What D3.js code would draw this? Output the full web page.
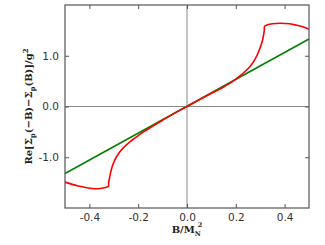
<!DOCTYPE html>
<html lang="en">
<head>
<script src="https://d3js.org/d3.v7.min.js"></script>
<style>
  body { margin: 0; background: #fff; }
  svg { display: block; }
  .tick text { font-family: "DejaVu Sans", sans-serif; font-size: 10.5px; fill: #333; }
</style>
</head>
<body>
<svg id="chart" width="325" height="245"></svg>
<script>
// red curve: Re[Sigma_p(-B) - Sigma_p(B)]/g^2
const redX = [-0.5, -0.45, -0.42, -0.4, -0.38, -0.35, -0.33, -0.322, -0.321, -0.319, -0.316, -0.312, -0.307, -0.3, -0.29, -0.275, -0.26, -0.24, -0.22, -0.2, -0.175, -0.15, -0.1, -0.05,
              0, 0.05, 0.1, 0.15, 0.175, 0.2, 0.22, 0.24, 0.26, 0.275, 0.29, 0.3, 0.307, 0.312, 0.315, 0.317, 0.318, 0.33, 0.35, 0.381, 0.42, 0.45, 0.48, 0.5];
const redY = [-1.49, -1.56, -1.59, -1.61, -1.62, -1.61, -1.59, -1.57, -1.50, -1.44, -1.37, -1.28, -1.19, -1.10, -1.00, -0.89, -0.81, -0.72, -0.645, -0.575, -0.49, -0.415, -0.27, -0.13,
              0, 0.13, 0.26, 0.385, 0.455, 0.54, 0.615, 0.70, 0.80, 0.90, 1.04, 1.16, 1.26, 1.36, 1.44, 1.51, 1.58, 1.61, 1.63, 1.64, 1.63, 1.60, 1.56, 1.52];
// green straight line
const greenX = [-0.5, 0.5];
const greenY = [-1.32, 1.33];

const xTicks = [-0.4, -0.2, 0.0, 0.2, 0.4];
const yTicks = [-1.0, 0.0, 1.0];

const svg = d3.select("#chart");
const mLeft = 65, mRight = 309, mTop = 5, mBottom = 208;

const x = d3.scaleLinear().domain([-0.5, 0.5]).range([mLeft, mRight]);
const y = d3.scaleLinear().domain([-2, 2]).range([mBottom, mTop]);

const frameCol = "#555";

// zero lines
svg.append("line").attr("x1", x(0)).attr("x2", x(0)).attr("y1", mTop).attr("y2", mBottom)
   .attr("stroke", "#888").attr("stroke-width", 1);
svg.append("line").attr("x1", mLeft).attr("x2", mRight).attr("y1", y(0)).attr("y2", y(0))
   .attr("stroke", "#888").attr("stroke-width", 1);

// axes with inward ticks
const fmt = d3.format(".1f");
const minus = s => s.replace("−", "-");
const xAxis = d3.axisBottom(x).tickValues(xTicks).tickSize(-4).tickPadding(6).tickFormat(d => minus(fmt(d)));
const yAxis = d3.axisLeft(y).tickValues(yTicks).tickSize(-4).tickPadding(6).tickFormat(d => minus(fmt(d)));
const xTop = d3.axisTop(x).tickValues(xTicks).tickSize(-4).tickFormat("");
const yRight = d3.axisRight(y).tickValues(yTicks).tickSize(-4).tickFormat("");

function styleAxis(g) {
  g.select(".domain").remove();
  g.selectAll(".tick line").attr("stroke", frameCol);
}
svg.append("g").attr("transform", `translate(0,${mBottom})`).call(xAxis).call(styleAxis);
svg.append("g").attr("transform", `translate(${mLeft},0)`).call(yAxis).call(styleAxis);
svg.append("g").attr("transform", `translate(0,${mTop})`).call(xTop).call(styleAxis);
svg.append("g").attr("transform", `translate(${mRight},0)`).call(yRight).call(styleAxis);

// data lines
const line = d3.line().x(d => x(d[0])).y(d => y(d[1]));
svg.append("path").datum(greenX.map((v, i) => [v, greenY[i]]))
   .attr("d", line).attr("fill", "none").attr("stroke", "#008000").attr("stroke-width", 1.6);
svg.append("path").datum(redX.map((v, i) => [v, redY[i]]))
   .attr("d", line.curve(d3.curveCatmullRom.alpha(0.5))).attr("fill", "none").attr("stroke", "#ff0000").attr("stroke-width", 1.6);

// frame
svg.append("rect").attr("x", mLeft).attr("y", mTop).attr("width", mRight - mLeft).attr("height", mBottom - mTop)
   .attr("fill", "none").attr("stroke", frameCol).attr("stroke-width", 1.2);

// x label: B/M_N^2
const xl = svg.append("text").attr("x", x(0)).attr("y", 233).attr("text-anchor", "middle")
   .attr("font-family", "'DejaVu Serif', serif").attr("font-weight", "bold").attr("font-size", 10).attr("fill", "#222");
xl.append("tspan").text("B/M");
xl.append("tspan").attr("font-size", 6.5).attr("dy", 3).text("N");
xl.append("tspan").attr("font-size", 6.5).attr("dx", -3).attr("dy", -9).text("2");

// y label: Re[Σp(−B)−Σp(B)]/g²
const yl = svg.append("text").attr("transform", `translate(32,${y(0)}) rotate(-90)`).attr("text-anchor", "middle")
   .attr("font-family", "'DejaVu Serif', serif").attr("font-weight", "bold").attr("font-size", 10).attr("fill", "#222");
yl.append("tspan").text("Re[Σ");
yl.append("tspan").attr("font-size", 7).attr("dy", 3).text("p");
yl.append("tspan").attr("dy", -3).text("(−B)−Σ");
yl.append("tspan").attr("font-size", 7).attr("dy", 3).text("p");
yl.append("tspan").attr("dy", -3).text("(B)]/g");
yl.append("tspan").attr("font-size", 7).attr("dy", -4).text("2");
</script>
</body>
</html>
